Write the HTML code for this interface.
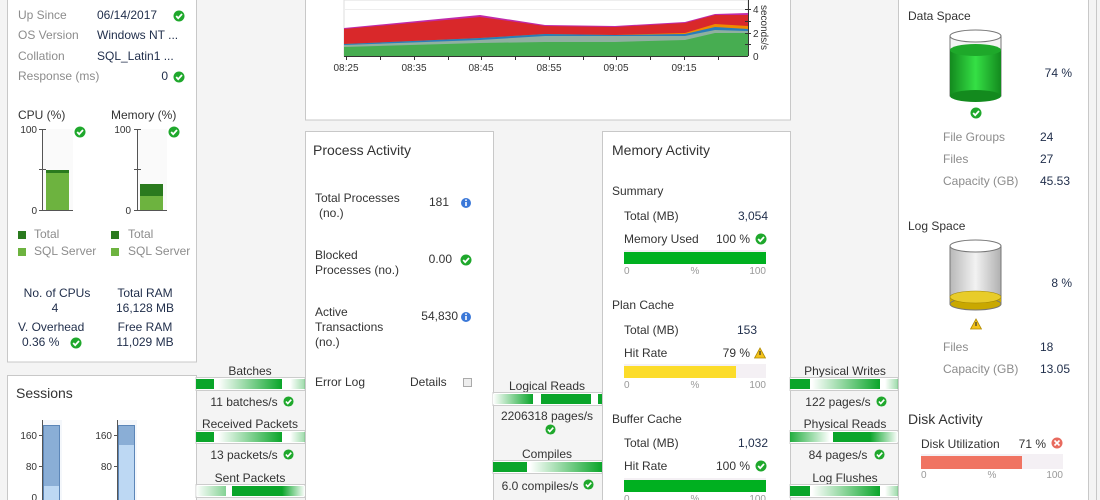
<!DOCTYPE html>
<html><head><meta charset="utf-8"><style>
html,body{margin:0;padding:0;background:#f4f4f4;}
svg{display:block;font-family:"Liberation Sans",sans-serif;}
.l{fill:#8c8c8c;font-size:12px}
.v{fill:#1f2d4a;font-size:12px}
.d{fill:#333;font-size:12px}
.h{fill:#333;font-size:14px}
.s{fill:#999;font-size:10px}
.c{text-anchor:middle}
.e{text-anchor:end}
</style></head><body>
<svg width="1100" height="500" viewBox="0 0 1100 500">
<defs>
<symbol id="ok" viewBox="-6 -6 12 12"><circle r="5.5" fill="#1fa82c"/><path d="M-2.8 0 L-0.8 2.2 L3 -2" stroke="#fff" stroke-width="1.8" fill="none"/></symbol>
<symbol id="info" viewBox="-6 -6 12 12"><circle r="5" fill="#3b78d8"/><rect x="-0.8" y="-1" width="1.6" height="4" fill="#fff"/><circle cy="-2.8" r="0.9" fill="#fff"/></symbol>
<symbol id="warn" viewBox="-6 -6 12 12"><path d="M0 -5 L5.5 5 L-5.5 5Z" fill="#f3c21b" stroke="#b08a00" stroke-width="0.8"/><rect x="-0.6" y="-2" width="1.2" height="4" fill="#333"/></symbol>
<symbol id="err" viewBox="-6 -6 12 12"><circle r="5.5" fill="#e86a5e"/><path d="M-2.5 -2.5L2.5 2.5M2.5 -2.5L-2.5 2.5" stroke="#fff" stroke-width="1.6"/></symbol>
<linearGradient id="g1" x1="0" x2="1"><stop offset="0" stop-color="#fff"/><stop offset="1" stop-color="#0aa52a"/></linearGradient>
<linearGradient id="g2" x1="0" x2="1"><stop offset="0" stop-color="#0aa52a"/><stop offset="1" stop-color="#fff"/></linearGradient>
<linearGradient id="cylg" x1="0" x2="1"><stop offset="0" stop-color="#138a1e"/><stop offset="0.5" stop-color="#35e045"/><stop offset="1" stop-color="#138a1e"/></linearGradient>
<linearGradient id="cylgr" x1="0" x2="1"><stop offset="0" stop-color="#b8b8b8"/><stop offset="0.5" stop-color="#f2f2f2"/><stop offset="1" stop-color="#b0b0b0"/></linearGradient>
<linearGradient id="cyly" x1="0" x2="1"><stop offset="0" stop-color="#c9a800"/><stop offset="0.5" stop-color="#f4dc3a"/><stop offset="1" stop-color="#c9a800"/></linearGradient>
</defs>

<!-- panels -->
<rect x="7.5" y="-5" width="189" height="367" fill="#fff" stroke="#c8c8c8"/>
<rect x="7.5" y="375.5" width="189" height="130" fill="#fff" stroke="#c8c8c8"/>
<rect x="305.5" y="-5" width="485" height="125" fill="#fff" stroke="#c8c8c8"/>
<rect x="305.5" y="131.5" width="188" height="375" fill="#fff" stroke="#c8c8c8"/>
<rect x="602.5" y="131.5" width="188" height="375" fill="#fff" stroke="#c8c8c8"/>
<rect x="898.5" y="-5" width="190" height="510" fill="#fff" stroke="#c8c8c8"/>
<line x1="1096.5" y1="0" x2="1096.5" y2="500" stroke="#c8c8c8"/>

<!-- left top -->
<text class="l" x="18" y="19">Up Since</text><text class="v" x="97" y="19">06/14/2017</text><use href="#ok" x="173" y="10" width="12" height="12"/>
<text class="l" x="18" y="39">OS Version</text><text class="v" x="97" y="39">Windows NT ...</text>
<text class="l" x="18" y="60">Collation</text><text class="v" x="97" y="60">SQL_Latin1 ...</text>
<text class="l" x="18" y="80">Response (ms)</text><text class="v e" x="168" y="80">0</text><use href="#ok" x="173" y="71" width="12" height="12"/>
<text class="d" x="18" y="119">CPU (%)</text><text class="d" x="111" y="119">Memory (%)</text>
<g font-size="10" fill="#333">
<text class="e" x="37" y="133">100</text><text class="e" x="37" y="214">0</text>
<text class="e" x="131" y="133">100</text><text class="e" x="131" y="214">0</text></g>
<rect x="43" y="129" width="30" height="81" fill="#fafafa"/>
<rect x="138" y="129" width="29" height="81" fill="#fafafa"/>
<line x1="42.5" y1="129" x2="42.5" y2="211" stroke="#555"/><line x1="39" y1="129.5" x2="46" y2="129.5" stroke="#555"/><line x1="39" y1="169.5" x2="46" y2="169.5" stroke="#555"/><line x1="39" y1="210.5" x2="73" y2="210.5" stroke="#555"/>
<rect x="46" y="170" width="23" height="40" fill="#2a7a1e"/><rect x="46" y="173" width="23" height="37" fill="#6db33f"/>
<line x1="137.5" y1="129" x2="137.5" y2="211" stroke="#555"/><line x1="134" y1="129.5" x2="141" y2="129.5" stroke="#555"/><line x1="134" y1="169.5" x2="141" y2="169.5" stroke="#555"/><line x1="134" y1="210.5" x2="167" y2="210.5" stroke="#555"/>
<rect x="140" y="184" width="23" height="26" fill="#2a7a1e"/><rect x="140" y="196" width="23" height="14" fill="#6db33f"/>
<use href="#ok" x="74" y="126" width="12" height="12"/><use href="#ok" x="168" y="126" width="12" height="12"/>
<rect x="18" y="231" width="8" height="8" fill="#2a7a1e"/><text class="l" x="34" y="238" font-size="11">Total</text>
<rect x="18" y="248" width="8" height="8" fill="#6db33f"/><text class="l" x="34" y="255" font-size="11">SQL Server</text>
<rect x="111" y="231" width="8" height="8" fill="#2a7a1e"/><text class="l" x="128" y="238" font-size="11">Total</text>
<rect x="111" y="248" width="8" height="8" fill="#6db33f"/><text class="l" x="128" y="255" font-size="11">SQL Server</text>
<text class="v c" x="57" y="297">No. of CPUs</text><text class="v c" x="55" y="312">4</text>
<text class="v" x="18" y="331">V. Overhead</text><text class="v" x="22" y="346">0.36 %</text><use href="#ok" x="70" y="337" width="12" height="12"/>
<text class="v c" x="145" y="297">Total RAM</text><text class="v c" x="145" y="312">16,128 MB</text>
<text class="v c" x="145" y="331">Free RAM</text><text class="v c" x="145" y="346">11,029 MB</text>

<!-- sessions -->
<text class="h" x="16" y="398">Sessions</text>
<g font-size="10" fill="#333"><text class="e" x="37" y="439">160</text><text class="e" x="37" y="470">80</text><text class="e" x="37" y="501">0</text>
<text class="e" x="112" y="439">160</text><text class="e" x="112" y="470">80</text></g>
<rect x="43" y="420" width="19" height="80" fill="#f4f7fb"/><rect x="118" y="420" width="19" height="80" fill="#f4f7fb"/>
<line x1="42.5" y1="420" x2="42.5" y2="500" stroke="#555"/><line x1="117.5" y1="420" x2="117.5" y2="500" stroke="#555"/>
<g stroke="#555"><line x1="39" y1="435.5" x2="46" y2="435.5"/><line x1="39" y1="466.5" x2="46" y2="466.5"/><line x1="114" y1="435.5" x2="121" y2="435.5"/><line x1="114" y1="466.5" x2="121" y2="466.5"/></g>
<rect x="43.5" y="425.5" width="16" height="80" fill="#8aaed6" stroke="#5c86b8"/><rect x="44" y="486" width="15" height="20" fill="#bdd8f3"/>
<rect x="118.5" y="425.5" width="16" height="80" fill="#8aaed6" stroke="#5c86b8"/><rect x="119" y="445" width="15" height="60" fill="#bdd8f3"/>

<!-- top chart -->
<rect x="344" y="0" width="404" height="56" fill="#fff" stroke="#ddd"/>
<line x1="344" y1="9.5" x2="748" y2="9.5" stroke="#eee"/>
<path d="M344 28 L480 15 L545 25 L615 26 L685 22 L715 14 L748 13 L748 56 L344 56Z" fill="#c02aa8"/>
<path d="M344 29 L480 17 L545 26 L615 27 L685 23 L715 15 L748 15 L748 56 L344 56Z" fill="#d9282a"/>
<path d="M344 44 L480 38 L545 34 L615 35 L685 33 L715 24 L748 26 L748 56 L344 56Z" fill="#f08a00"/>
<path d="M344 44 L480 38 L545 34 L615 35 L685 34 L715 27 L748 29 L748 56 L344 56Z" fill="#2a7db8"/>
<path d="M344 45 L480 40 L545 36 L615 36 L685 36 L715 30 L748 31 L748 56 L344 56Z" fill="#8fb0a0"/>
<path d="M344 47 L480 43 L545 42 L615 42 L685 40 L715 33 L748 33 L748 56 L344 56Z" fill="#47ad51"/>
<line x1="344" y1="56.5" x2="748" y2="56.5" stroke="#333"/><line x1="748.5" y1="0" x2="748.5" y2="56" stroke="#333"/>
<g stroke="#333"><line x1="346.5" y1="56" x2="346.5" y2="60"/><line x1="380.5" y1="56" x2="380.5" y2="60"/><line x1="414.5" y1="56" x2="414.5" y2="60"/><line x1="448.5" y1="56" x2="448.5" y2="60"/><line x1="481.5" y1="56" x2="481.5" y2="60"/><line x1="515.5" y1="56" x2="515.5" y2="60"/><line x1="549.5" y1="56" x2="549.5" y2="60"/><line x1="583.5" y1="56" x2="583.5" y2="60"/><line x1="616.5" y1="56" x2="616.5" y2="60"/><line x1="650.5" y1="56" x2="650.5" y2="60"/><line x1="684.5" y1="56" x2="684.5" y2="60"/><line x1="718.5" y1="56" x2="718.5" y2="60"/>
<line x1="745" y1="9.5" x2="751" y2="9.5"/><line x1="745" y1="21.5" x2="751" y2="21.5"/><line x1="745" y1="33.5" x2="751" y2="33.5"/><line x1="745" y1="44.5" x2="751" y2="44.5"/></g>
<g font-size="10" fill="#333"><text class="c" x="346" y="71">08:25</text><text class="c" x="414" y="71">08:35</text><text class="c" x="481" y="71">08:45</text><text class="c" x="549" y="71">08:55</text><text class="c" x="616" y="71">09:05</text><text class="c" x="684" y="71">09:15</text>
<text x="753" y="13">4</text><text x="753" y="37">2</text><text x="753" y="60">0</text>
<text transform="translate(761,5) rotate(90)">seconds/s</text></g>

<!-- process activity -->
<text class="h" x="313" y="155">Process Activity</text>
<text class="d" x="315" y="202">Total Processes</text><text class="d" x="319" y="217">(no.)</text><text class="d e" x="449" y="206">181</text><use href="#info" x="460" y="197" width="12" height="12"/>
<text class="d" x="315" y="259">Blocked</text><text class="d" x="315" y="274">Processes (no.)</text><text class="d e" x="452" y="263">0.00</text><use href="#ok" x="460" y="254" width="12" height="12"/>
<text class="d" x="315" y="316">Active</text><text class="d" x="315" y="331">Transactions</text><text class="d" x="315" y="346">(no.)</text><text class="d e" x="458" y="320">54,830</text><use href="#info" x="460" y="311" width="12" height="12"/>
<text class="d" x="315" y="386">Error Log</text><text class="d" x="410" y="386">Details</text><rect x="463.5" y="378.5" width="8" height="8" fill="#eee" stroke="#aaa"/>

<!-- memory activity -->
<text class="h" x="612" y="155">Memory Activity</text>
<text class="d" x="612" y="195">Summary</text>
<text class="d" x="624" y="220">Total (MB)</text><text class="v e" x="768" y="220">3,054</text>
<text class="d" x="624" y="243">Memory Used</text><text class="d e" x="750" y="243">100 %</text><use href="#ok" x="755" y="233" width="12" height="12"/>
<rect x="624" y="250" width="142" height="14" fill="#f4f0f4"/><rect x="624" y="252" width="142" height="12" fill="#00b020"/>
<text class="s" x="624" y="274">0</text><text class="s c" x="695" y="274">%</text><text class="s e" x="766" y="274">100</text>
<text class="d" x="612" y="309">Plan Cache</text>
<text class="d" x="624" y="334">Total (MB)</text><text class="v e" x="757" y="334">153</text>
<text class="d" x="624" y="357">Hit Rate</text><text class="d e" x="750" y="357">79 %</text><use href="#warn" x="754" y="347" width="12" height="12"/>
<rect x="624" y="364" width="142" height="14" fill="#f4f0f4"/><rect x="624" y="366" width="112" height="12" fill="#fcdc2a"/>
<text class="s" x="624" y="388">0</text><text class="s c" x="695" y="388">%</text><text class="s e" x="766" y="388">100</text>
<text class="d" x="612" y="423">Buffer Cache</text>
<text class="d" x="624" y="447">Total (MB)</text><text class="v e" x="768" y="447">1,032</text>
<text class="d" x="624" y="470">Hit Rate</text><text class="d e" x="750" y="470">100 %</text><use href="#ok" x="755" y="460" width="12" height="12"/>
<rect x="624" y="478" width="142" height="14" fill="#f4f0f4"/><rect x="624" y="480" width="142" height="12" fill="#00b020"/>
<text class="s" x="624" y="502">0</text><text class="s c" x="695" y="502">%</text><text class="s e" x="766" y="502">100</text>

<!-- connectors -->
<g id="cbar">
</g>
<g font-size="12" fill="#333">
<text class="c" x="250" y="375">Batches</text>
<rect x="196" y="377.5" width="109" height="13" fill="#fff" stroke="#ccc"/><rect x="196" y="379" width="18" height="10" fill="#0aa52a"/><rect x="218" y="379" width="64" height="10" fill="url(#g1)"/><rect x="290" y="379" width="15" height="10" fill="url(#g1)" opacity=".4"/>
<text class="c" x="244" y="406">11 batches/s</text><use href="#ok" x="283" y="396" width="11" height="11"/>
<text class="c" x="250" y="428">Received Packets</text>
<rect x="196" y="430.5" width="109" height="13" fill="#fff" stroke="#ccc"/><rect x="196" y="432" width="18" height="10" fill="#0aa52a"/><rect x="218" y="432" width="64" height="10" fill="url(#g1)"/><rect x="290" y="432" width="15" height="10" fill="url(#g1)" opacity=".4"/>
<text class="c" x="244" y="459">13 packets/s</text><use href="#ok" x="283" y="449" width="11" height="11"/>
<text class="c" x="250" y="482">Sent Packets</text>
<rect x="196" y="484.5" width="109" height="13" fill="#fff" stroke="#ccc"/><rect x="196" y="486" width="30" height="10" fill="url(#g1)" opacity=".5"/><rect x="232" y="486" width="50" height="10" fill="#0aa52a"/><rect x="282" y="486" width="23" height="10" fill="url(#g2)"/>

<text class="c" x="547" y="390">Logical Reads</text>
<rect x="493" y="392.5" width="109" height="13" fill="#fff" stroke="#ccc"/><rect x="493" y="394" width="40" height="10" fill="url(#g1)"/><rect x="541" y="394" width="50" height="10" fill="#0aa52a"/><rect x="598" y="394" width="4" height="10" fill="#0aa52a"/>
<text class="c" x="547" y="420">2206318 pages/s</text><use href="#ok" x="545" y="424" width="11" height="11"/>
<text class="c" x="547" y="458">Compiles</text>
<rect x="493" y="460.5" width="109" height="13" fill="#fff" stroke="#ccc"/><rect x="493" y="462" width="34" height="10" fill="#0aa52a"/><rect x="530" y="462" width="72" height="10" fill="url(#g1)"/>
<text class="c" x="540" y="490">6.0 compiles/s</text><use href="#ok" x="583" y="479" width="11" height="11"/>

<text class="c" x="845" y="375">Physical Writes</text>
<rect x="790" y="377.5" width="108" height="13" fill="#fff" stroke="#ccc"/><rect x="790" y="379" width="20" height="10" fill="#0aa52a"/><rect x="812" y="379" width="68" height="10" fill="url(#g1)"/><rect x="885" y="379" width="13" height="10" fill="url(#g1)" opacity=".4"/>
<text class="c" x="838" y="406">122 pages/s</text><use href="#ok" x="876" y="396" width="11" height="11"/>
<text class="c" x="845" y="428">Physical Reads</text>
<rect x="790" y="430.5" width="108" height="13" fill="#fff" stroke="#ccc"/><rect x="790" y="432" width="40" height="10" fill="url(#g2)" opacity=".9"/><rect x="833" y="432" width="65" height="10" fill="#0aa52a"/><rect x="870" y="432" width="28" height="10" fill="url(#g2)"/>
<text class="c" x="838" y="459">84 pages/s</text><use href="#ok" x="874" y="449" width="11" height="11"/>
<text class="c" x="845" y="482">Log Flushes</text>
<rect x="790" y="484.5" width="108" height="13" fill="#fff" stroke="#ccc"/><rect x="790" y="486" width="20" height="10" fill="#0aa52a"/><rect x="812" y="486" width="68" height="10" fill="url(#g1)"/><rect x="885" y="486" width="13" height="10" fill="url(#g1)" opacity=".4"/>
</g>

<!-- right panel -->
<text class="d" x="908" y="20">Data Space</text>
<rect x="950" y="36" width="51" height="60" fill="#f4f4f4" stroke="#777"/>
<rect x="950" y="50" width="51" height="46" fill="url(#cylg)"/>
<ellipse cx="975.5" cy="96" rx="25.5" ry="6" fill="#138a1e"/>
<ellipse cx="975.5" cy="50" rx="25.5" ry="6" fill="#1ea82a"/>
<ellipse cx="975.5" cy="36" rx="25.5" ry="6" fill="#fff" stroke="#777"/>
<text class="v e" x="1072" y="77">74 %</text><use href="#ok" x="970" y="107" width="12" height="12"/>
<text class="l" x="943" y="141">File Groups</text><text class="v" x="1040" y="141">24</text>
<text class="l" x="943" y="163">Files</text><text class="v" x="1040" y="163">27</text>
<text class="l" x="943" y="185">Capacity (GB)</text><text class="v" x="1040" y="185">45.53</text>
<text class="d" x="908" y="230">Log Space</text>
<rect x="950" y="246" width="51" height="58" fill="url(#cylgr)" stroke="#777"/>
<rect x="950" y="297" width="51" height="8" fill="url(#cyly)"/>
<ellipse cx="975.5" cy="304" rx="25.5" ry="6" fill="#c9a800" stroke="#777"/>
<ellipse cx="975.5" cy="297" rx="25.5" ry="6" fill="#e8cc2a" stroke="#a08400" stroke-width=".6"/>
<ellipse cx="975.5" cy="246" rx="25.5" ry="6" fill="#fff" stroke="#777"/>
<text class="v e" x="1072" y="287">8 %</text><use href="#warn" x="970" y="318" width="12" height="12"/>
<text class="l" x="943" y="351">Files</text><text class="v" x="1040" y="351">18</text>
<text class="l" x="943" y="373">Capacity (GB)</text><text class="v" x="1040" y="373">13.05</text>
<text class="h" x="908" y="424">Disk Activity</text>
<text class="d" x="921" y="448">Disk Utilization</text><text class="d e" x="1046" y="448">71 %</text><use href="#err" x="1051" y="437" width="12" height="12"/>
<rect x="921" y="454" width="142" height="15" fill="#f4f0f4"/><rect x="921" y="456" width="101" height="13" fill="#f07462"/>
<text class="s" x="921" y="478">0</text><text class="s c" x="992" y="478">%</text><text class="s e" x="1063" y="478">100</text>
</svg>
</body></html>
